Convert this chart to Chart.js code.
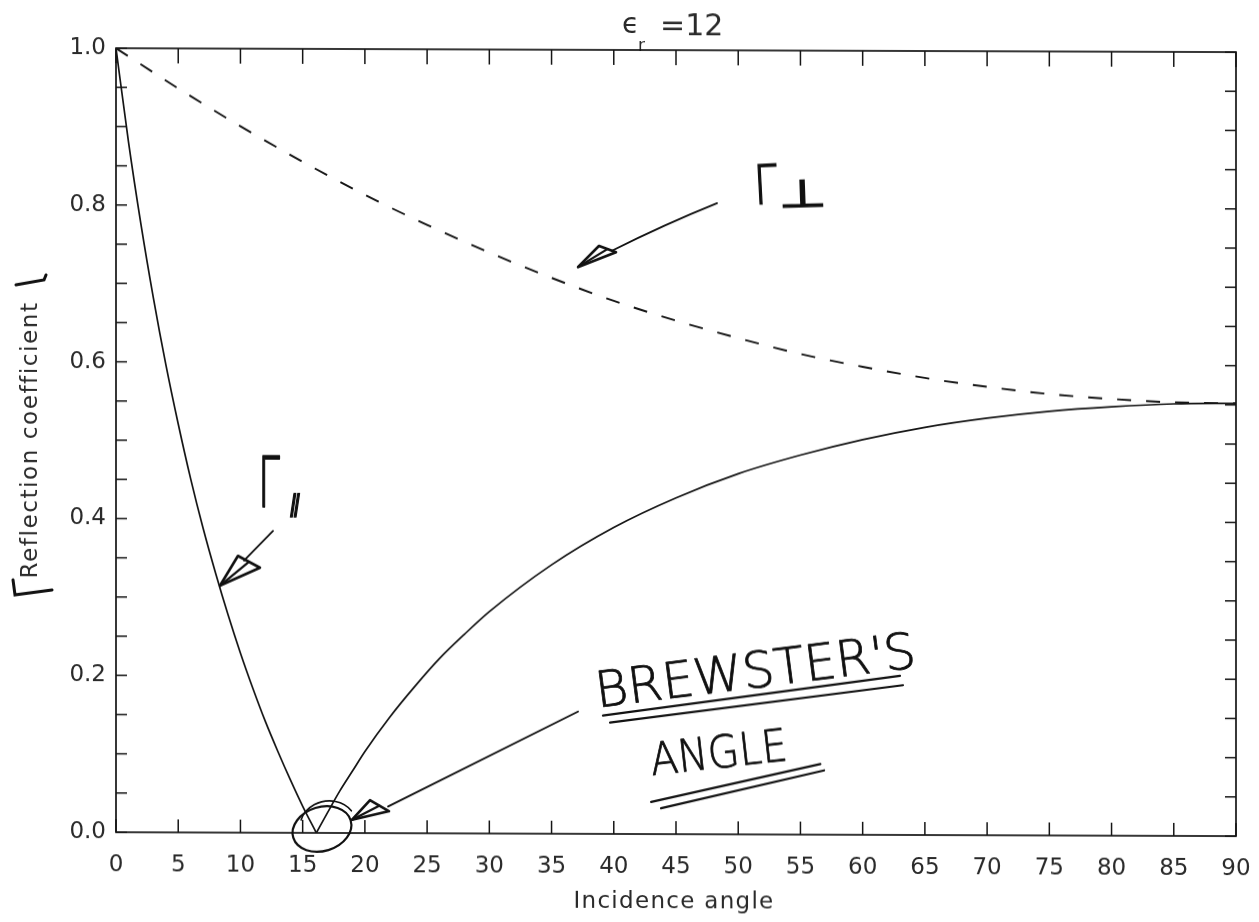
<!DOCTYPE html>
<html>
<head>
<meta charset="utf-8">
<script src="https://cdn.jsdelivr.net/npm/chart.js"></script>
<style>
  html, body { margin: 0; padding: 0; background: #fff; overflow: hidden; }
  #wrap { width: 1259px; height: 922px; transform: skewY(0.2deg); }
</style>
</head>
<body>
<div id="wrap"><canvas id="reflChart"></canvas></div>
<script>
// grazing angle (deg) and |Γ| for horizontal polarisation, εr = 12
const perpAngle = [0, 5, 10, 15, 20, 25, 30, 35, 40, 45, 50, 55, 60, 65, 70, 75, 80, 85, 90];
const perpCoef  = [1.000, 0.949, 0.901, 0.856, 0.814, 0.776, 0.741, 0.709, 0.680, 0.655,
                   0.633, 0.613, 0.597, 0.583, 0.572, 0.563, 0.557, 0.553, 0.552];

// vertical polarisation, goes to zero at the Brewster angle
const parAngle = [0, 1, 2, 3, 4, 5, 6, 7, 8, 9, 10, 11, 12, 13, 14, 15, 16.1, 17, 18, 19, 20,
                  22, 24, 26, 28, 30, 35, 40, 45, 50, 55, 60, 65, 70, 75, 80, 85, 90];
const parCoef  = [1.000, 0.881, 0.776, 0.682, 0.597, 0.521, 0.451, 0.388, 0.331, 0.278, 0.229,
                  0.184, 0.142, 0.104, 0.068, 0.034, 0.000, 0.026, 0.054, 0.079, 0.104,
                  0.148, 0.187, 0.223, 0.254, 0.283, 0.343, 0.391, 0.429, 0.460, 0.484,
                  0.504, 0.520, 0.532, 0.541, 0.547, 0.551, 0.552];

const yLabels = ['0.0', '0.2', '0.4', '0.6', '0.8', '1.0'];

const toPts = (xs, ys) => xs.map((x, i) => ({ x: x, y: ys[i] }));
// split the parallel curve at its minimum so the notch stays sharp
const brewIdx = parCoef.indexOf(Math.min.apply(null, parCoef));
const parLeft = toPts(parAngle.slice(0, brewIdx + 1), parCoef.slice(0, brewIdx + 1));
const parRight = toPts(parAngle.slice(brewIdx), parCoef.slice(brewIdx));

const INK = '#151515';
const LABEL = '#2a2a2a';
const FONT = '"DejaVu Sans", "Liberation Sans", sans-serif';

function line(ctx, pts, w) {
  ctx.lineWidth = w;
  ctx.beginPath();
  pts.forEach(function (p, i) { if (i) ctx.lineTo(p[0], p[1]); else ctx.moveTo(p[0], p[1]); });
  ctx.stroke();
}

// pen-style lettering: thin face plus a light outline to thicken the stroke
function handText(ctx, txt, p, size, rot, sx, skew, pen) {
  ctx.save();
  ctx.translate(p[0], p[1]);
  ctx.rotate(rot * Math.PI / 180);
  ctx.transform(sx, 0, skew || 0, 1, 0, 0);
  ctx.font = '200 ' + size + 'px ' + FONT;
  ctx.fillStyle = '#111';
  ctx.strokeStyle = '#111';
  ctx.textAlign = 'left';
  ctx.textBaseline = 'alphabetic';
  ctx.fillText(txt, 0, 0);
  if (pen) { ctx.lineWidth = pen; ctx.strokeText(txt, 0, 0); }
  ctx.restore();
}

function arrowHead(ctx, tip, w1, w2) {
  ctx.lineJoin = 'round';
  ctx.lineWidth = 2.6;
  ctx.beginPath();
  ctx.moveTo(tip[0], tip[1]);
  ctx.lineTo(w1[0], w1[1]);
  ctx.lineTo(w2[0], w2[1]);
  ctx.closePath();
  ctx.stroke();
  const mx = (w1[0] + w2[0]) / 2, my = (w1[1] + w2[1]) / 2;
  line(ctx, [tip, [mx, my]], 2.2);
}

const decorations = {
  id: 'decorations',
  afterDraw(chart) {
    const ctx = chart.ctx, a = chart.chartArea;
    const xs = chart.scales.x, ys = chart.scales.y;
    const P = (d, v) => [xs.getPixelForValue(d), ys.getPixelForValue(v)];
    const cx = (a.left + a.right) / 2;
    ctx.save();
    ctx.fillStyle = LABEL;
    ctx.strokeStyle = INK;

    // title: ϵr = 12, subscript sits on the top frame
    ctx.textBaseline = 'alphabetic';
    ctx.textAlign = 'left';
    ctx.font = '28px ' + FONT;
    ctx.fillText('\u03f5', cx - 54, a.top - 17);
    ctx.font = '30px ' + FONT;
    ctx.fillText('=12', cx - 16, a.top - 15);
    ctx.font = '17px ' + FONT;
    ctx.fillText('r', cx - 38, a.top + 1);

    // axis titles
    ctx.font = '23px ' + FONT;
    ctx.letterSpacing = '1.3px';
    ctx.textAlign = 'center';
    ctx.fillText('Incidence angle', cx - 2, a.bottom + 74);
    ctx.save();
    ctx.translate(37, (a.top + a.bottom) / 2);
    ctx.rotate(-Math.PI / 2);
    ctx.letterSpacing = '1.6px';
    ctx.fillText('Reflection coefficient', 0, 0);
    ctx.restore();
    ctx.letterSpacing = '0px';
    ctx.textAlign = 'left';

    // hand-drawn modulus bars around the y title
    ctx.strokeStyle = '#111';
    ctx.lineCap = 'round';
    line(ctx, [[13, 582], [15, 597], [52, 592]], 3);
    line(ctx, [[16, 287], [44, 282], [46, 277]], 3);

    // frame and inward ticks
    ctx.strokeStyle = INK;
    ctx.lineCap = 'butt';
    ctx.lineWidth = 1.7;
    ctx.strokeRect(a.left, a.top, a.right - a.left, a.bottom - a.top);
    xs.ticks.forEach(function (t) {
      const px = xs.getPixelForValue(t.value);
      line(ctx, [[px, a.bottom], [px, a.bottom - 13]], 1.5);
      line(ctx, [[px, a.top], [px, a.top + 15]], 1.5);
    });
    ys.ticks.forEach(function (t) {
      const py = ys.getPixelForValue(t.value);
      line(ctx, [[a.left, py], [a.left + 11, py]], 1.5);
      line(ctx, [[a.right, py], [a.right - 11, py]], 1.5);
    });

    // annotations
    ctx.strokeStyle = '#111';
    ctx.lineCap = 'round';

    // Γ⊥ label and arrow
    handText(ctx, '\u0393', P(51.35, 0.804), 54, -3, 0.77, 0, 1.6);
    handText(ctx, '\u22a5', P(53.3, 0.800), 38, -2, 1.45, 0, 1.4);
    const s1 = P(48.30, 0.805), c1 = P(44.12, 0.778), e1 = P(39.86, 0.744);
    ctx.lineWidth = 1.8;
    ctx.beginPath();
    ctx.moveTo(s1[0], s1[1]);
    ctx.quadraticCurveTo(c1[0], c1[1], e1[0], e1[1]);
    ctx.stroke();
    arrowHead(ctx, P(37.13, 0.723), P(38.81, 0.750), P(40.18, 0.742));

    // Γ∥ label and arrow
    handText(ctx, '\u0393', P(11.41, 0.416), 70, 0, 0.56, 0, 1.8);
    handText(ctx, '\u2225', P(13.82, 0.409), 24, 0, 1, -0.15, 1.2);
    line(ctx, [P(12.62, 0.385), P(10.29, 0.347)], 1.8);
    arrowHead(ctx, P(8.36, 0.315), P(9.80, 0.353), P(11.57, 0.338));

    // Brewster's angle: text, underlines, arrow and ring round the minimum
    handText(ctx, "BREWSTER'S", P(38.7, 0.161), 50, -7.4, 1.0, 0, 0.8);
    handText(ctx, 'ANGLE', P(43.07, 0.075), 45, -6.5, 0.9, 0, 0.8);
    line(ctx, [P(39.13, 0.151), P(63.0, 0.203)], 2.2);
    line(ctx, [P(39.7, 0.142), P(63.24, 0.191)], 2.2);
    line(ctx, [P(43.0, 0.041), P(56.6, 0.090)], 2.2);
    line(ctx, [P(43.8, 0.033), P(56.9, 0.082)], 2.2);
    line(ctx, [P(37.13, 0.156), P(21.86, 0.034)], 1.8);
    arrowHead(ctx, P(18.97, 0.017), P(20.41, 0.042), P(21.94, 0.028));
    const c = P(16.55, 0.005);
    ctx.lineWidth = 2.2;
    ctx.beginPath();
    ctx.ellipse(c[0], c[1], 30, 22, -0.3, 0, Math.PI * 2);
    ctx.stroke();
    ctx.lineWidth = 1.6;
    ctx.beginPath();
    ctx.ellipse(c[0] + 6, c[1] - 4, 28, 24, -0.2, -2.7, -0.4);
    ctx.stroke();

    ctx.restore();
  }
};

new Chart(document.getElementById('reflChart'), {
  type: 'line',
  data: {
    datasets: [
      { data: toPts(perpAngle, perpCoef), borderColor: INK, borderWidth: 1.9,
        borderDash: [14, 15], cubicInterpolationMode: 'monotone' },
      { data: parLeft, borderColor: INK, borderWidth: 1.7, cubicInterpolationMode: 'monotone' },
      { data: parRight, borderColor: INK, borderWidth: 1.7, cubicInterpolationMode: 'monotone' }
    ]
  },
  options: {
    responsive: true,
    maintainAspectRatio: false,
    animation: false,
    layout: { padding: { top: 50, right: 23, bottom: 0, left: 0 } },
    elements: { point: { radius: 0 } },
    plugins: { legend: { display: false }, tooltip: { enabled: false } },
    scales: {
      x: {
        type: 'linear', min: 0, max: 90,
        grid: { display: false, drawTicks: false },
        border: { display: false },
        ticks: { stepSize: 5, autoSkip: false, maxRotation: 0, padding: 19,
                 color: LABEL, font: { family: FONT, size: 23 } },
        afterFit: function (s) { s.height = 88; s.paddingLeft = 0; s.paddingRight = 0; }
      },
      y: {
        min: 0, max: 1,
        grid: { display: false, drawTicks: false },
        border: { display: false },
        ticks: {
          stepSize: 0.05, autoSkip: false, padding: 10,
          color: LABEL, font: { family: FONT, size: 23 },
          callback: function (v) {
            const i = Math.round(v / 0.2);
            return Math.abs(v - i * 0.2) < 1e-6 ? yLabels[i] : '';
          }
        },
        afterFit: function (s) { s.width = 116; s.paddingTop = 0; s.paddingBottom = 0; }
      }
    }
  },
  plugins: [decorations]
});
</script>
</body>
</html>
